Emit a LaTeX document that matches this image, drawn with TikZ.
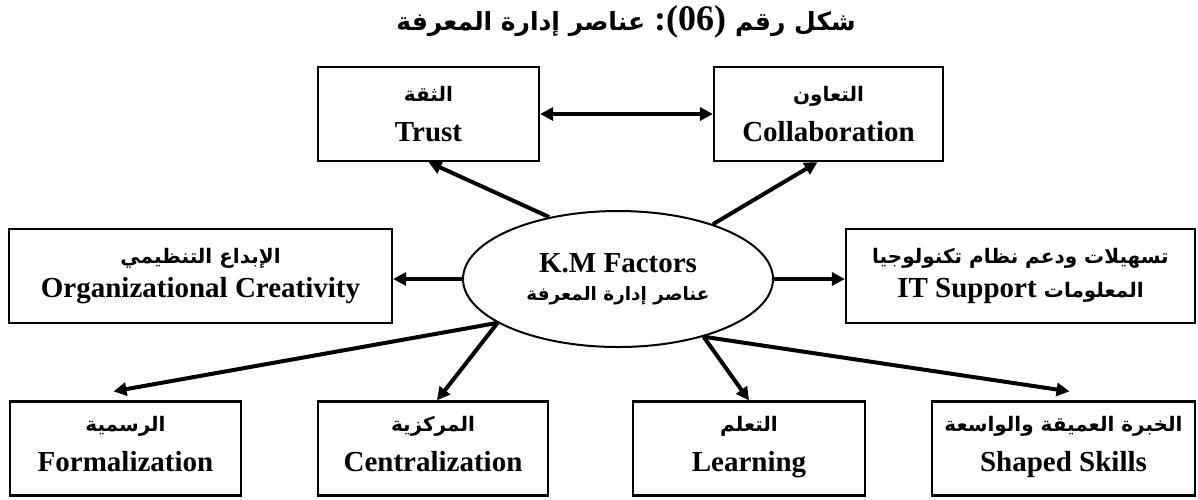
\documentclass[tikz,border=0pt]{standalone}
\usepackage{fontspec}
\setmainfont{Liberation Serif}
\newfontfamily\arabicfont[Script=Arabic]{DejaVu Sans}
\TeXXeTstate=1
\usetikzlibrary{shapes.geometric, arrows.meta, positioning, calc}
\newcommand{\artxt}[2][10]{{\arabicfont\fontsize{#1}{17}\selectfont\beginR #2\endR}}

\begin{document}
\begin{tikzpicture}[x=0.5pt, y=-0.5pt,
      box/.style={rectangle, draw=black, line width=1.1pt, minimum height=47pt,
                  inner sep=0pt, align=center, font=\bfseries\fontsize{14.5}{17}\selectfont},
      arr/.style={-{Triangle[length=6.5pt,width=6.5pt]}, line width=2pt},
      dbl/.style={{Triangle[length=6.5pt,width=6.5pt]}-{Triangle[length=6.5pt,width=6.5pt]}, line width=2pt}
    ]
    \useasboundingbox (0,0) rectangle (1198,499);
    \node[font=\bfseries\fontsize{18}{20}\selectfont] (title) at (626,22)
      {\beginR{\arabicfont\fontsize{12.5}{20}\selectfont شكل رقم} \beginL:(06)\endL{} {\arabicfont\fontsize{12.5}{20}\selectfont عناصر إدارة المعرفة}\endR};
    % centre
    \node[ellipse, draw, line width=1pt, minimum width=155pt, minimum height=68pt,
          inner sep=0pt, align=center, font=\bfseries\fontsize{14.5}{17}\selectfont] (km) at (618,279)
      {K.M Factors\\[-3pt] \artxt[9.2]{عناصر إدارة المعرفة}};
    % factors
    \node[box, minimum width=110.5pt] (tr) at (428.5,114) {\artxt{الثقة}\\[3pt] Trust};
    \node[box, minimum width=114.5pt] (co) at (828.5,114) {\artxt{التعاون}\\[3pt] Collaboration};
    \node[box, minimum width=191.5pt] (oc) at (200.5,276) {\artxt{الإبداع التنظيمي}\\[0pt] Organizational Creativity};
    \node[box, minimum width=174.5pt] (it) at (1020.5,276) {\artxt{تسهيلات ودعم نظام تكنولوجيا}\\[0pt] IT Support \artxt{المعلومات}};
    \node[box, minimum width=115.5pt] (fo) at (125.5,448.5) {\artxt{الرسمية}\\[3pt] Formalization\strut};
    \node[box, minimum width=115pt] (ce) at (433,448.5) {\artxt{المركزية}\\[3pt] Centralization\strut};
    \node[box, minimum width=116pt] (le) at (749,448.5) {\artxt{التعلم}\\[3pt] Learning\strut};
    \node[box, minimum width=131.5pt] (sk) at (1063.5,448.5) {\artxt{الخبرة العميقة والواسعة}\\[3pt] Shaped Skills\strut};
    % links
    \draw[dbl] (tr.east) -- (co.west);
    \draw[arr] (km.138) -- (tr.south);
    \draw[arr] (km.30) -- ($(co.south)+(-11,0)$);
    \draw[arr] (km.west) -- (km.west -| oc.east);
    \draw[arr] (km.east) -- (km.east -| it.west);
    \draw[arr] (km.200) -- ($(fo.north)+(-12,-9)$);
    \draw[arr] (km.200) -- ($(ce.north)+(4,0)$);
    \draw[arr] (km.326) -- (le.north);
    \draw[arr] (km.326) -- ($(sk.north)+(6,-9)$);
  \end{tikzpicture}
\end{document}
